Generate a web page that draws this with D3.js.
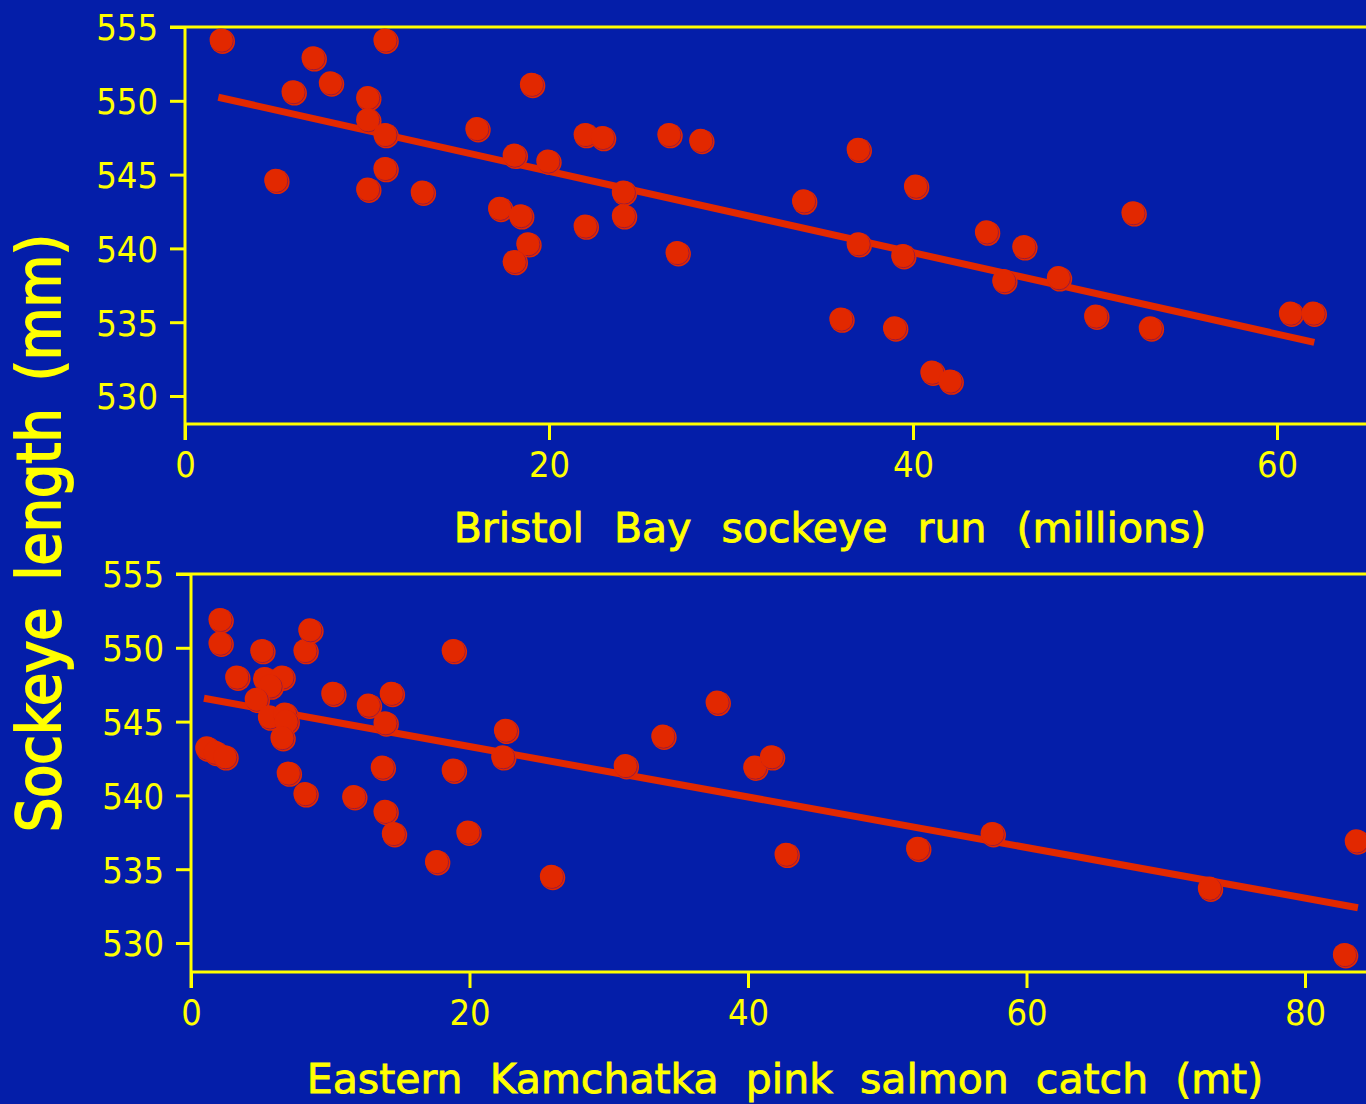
<!DOCTYPE html>
<html>
<head>
<meta charset="utf-8">
<script src="https://cdn.jsdelivr.net/npm/d3@7"></script>
<style>
  html, body { margin: 0; padding: 0; background: #041ea9; }
  svg { display: block; }
  text { fill: #ffff00; font-family: "DejaVu Sans", "Liberation Sans", sans-serif; }
  .tick text { font-stretch: condensed; }
</style>
</head>
<body>
<svg id="chart" width="1366" height="1104"></svg>
<script>
// Bristol Bay: sockeye run (millions) vs. mean sockeye length (mm)
const bristolRun = [2.0, 7.05, 11.0, 5.95, 8.0, 10.05, 10.05, 11.0, 11.0, 5.0, 10.05, 13.05,
  19.05, 16.05, 18.1, 19.95, 22.0, 22.95, 26.6, 28.35, 37.0, 17.3, 18.45, 24.1, 24.1, 22.0,
  18.85, 18.1, 27.05, 34.0, 37.0, 39.45, 40.15, 44.05, 46.1, 52.1, 45.0, 48.0, 36.05, 39.0,
  41.05, 42.05, 50.05, 53.05, 60.75, 62.0];
const bristolLength = [554.1, 552.9, 554.1, 550.6, 551.2, 550.2, 548.7, 547.7, 545.4, 544.6, 544.0, 543.8,
  551.1, 548.1, 546.3, 545.9, 547.7, 547.5, 547.7, 547.3, 546.7, 542.7, 542.2, 543.8, 542.2, 541.5,
  540.3, 539.1, 539.7, 543.2, 540.3, 539.5, 544.2, 541.1, 540.1, 542.4, 537.8, 538.0, 535.2, 534.6,
  531.6, 531.0, 535.4, 534.6, 535.6, 535.6];
// fitted regression line, end points
const bristolFitRun = [1.83, 62.05];
const bristolFitLength = [550.24, 533.63];

// Eastern Kamchatka: pink salmon catch (mt) vs. mean sockeye length (mm)
const kamchatkaCatch = [2.1, 2.1, 3.3, 5.1, 8.2, 8.55, 5.3, 6.55, 5.7, 4.7, 5.65, 6.75, 6.85, 6.55,
  1.15, 1.75, 2.45, 10.2, 12.75, 14.4, 13.95, 7.0, 8.2, 11.7, 13.75, 13.95, 14.55, 18.85, 18.85,
  22.6, 22.4, 19.9, 17.65, 25.9, 31.2, 33.9, 37.8, 40.5, 41.7, 42.75, 52.2, 57.55, 73.15, 83.7, 82.85];
const kamchatkaLength = [551.9, 550.3, 548.0, 549.8, 549.8, 551.2, 547.9, 548.0, 547.4, 546.5, 545.3, 545.5,
  545.0, 543.9, 543.2, 542.9, 542.6, 546.9, 546.1, 546.9, 544.9, 541.5, 540.1, 539.9, 541.9, 538.9,
  537.4, 549.8, 541.7, 544.4, 542.6, 537.5, 535.5, 534.5, 542.0, 544.0, 546.3, 541.9, 542.6, 536.0,
  536.4, 537.4, 533.7, 536.9, 529.2];
const kamchatkaFitCatch = [0.93, 83.8];
const kamchatkaFitLength = [546.58, 532.39];

const lengthTicks = [530, 535, 540, 545, 550, 555];
const bristolTicks = [0, 20, 40, 60];
const kamchatkaTicks = [0, 20, 40, 60, 80];

const RED = "#e22800";
const YELLOW = "#ffff00";
const W = 1366;

const svg = d3.select("#chart");
svg.append("rect").attr("width", W).attr("height", 1104).attr("fill", "#041ea9");

function panel(cfg) {
  const x = d3.scaleLinear().domain(cfg.xDomain).range(cfg.xRange);
  const y = d3.scaleLinear().domain([530, 555]).range(cfg.yRange);
  const g = svg.append("g");
  const x0 = x(0), yTop = y(555), yBase = cfg.axisY;

  // y axis with ticks
  const yAxis = d3.axisLeft(y).tickValues(lengthTicks).tickSize(15).tickPadding(12).tickSizeOuter(0);
  const ya = g.append("g").attr("transform", `translate(${x0},0)`).call(yAxis);
  ya.select(".domain").remove();
  ya.selectAll(".tick line").attr("stroke", YELLOW).attr("stroke-width", 3);
  ya.selectAll(".tick text").attr("font-size", 36).attr("dy", "0.36em");

  // x axis with ticks
  const xAxis = d3.axisBottom(x).tickValues(cfg.xTicks).tickSize(16).tickPadding(12).tickSizeOuter(0);
  const xa = g.append("g").attr("transform", `translate(0,${yBase})`).call(xAxis);
  xa.select(".domain").remove();
  xa.selectAll(".tick line").attr("stroke", YELLOW).attr("stroke-width", 3);
  xa.selectAll(".tick text").attr("font-size", 36).attr("dy", "0.7em");

  // frame: top border, left axis line, baseline
  g.append("line").attr("x1", x0 - 15).attr("x2", W).attr("y1", yTop).attr("y2", yTop)
    .attr("stroke", YELLOW).attr("stroke-width", 3);
  g.append("line").attr("x1", x0).attr("x2", x0).attr("y1", yTop).attr("y2", yBase + 16)
    .attr("stroke", YELLOW).attr("stroke-width", 3);
  g.append("line").attr("x1", x0).attr("x2", W).attr("y1", yBase).attr("y2", yBase)
    .attr("stroke", YELLOW).attr("stroke-width", 3);

  // fitted line
  const fit = cfg.fitX.map((v, i) => [v, cfg.fitY[i]]);
  g.append("path").datum(fit)
    .attr("d", d3.line().x(d => x(d[0])).y(d => y(d[1])))
    .attr("stroke", RED).attr("stroke-width", 7).attr("fill", "none");

  // points: shadowed red balls
  const pts = cfg.xs.map((v, i) => [v, cfg.ys[i]]);
  const dots = g.append("g").selectAll("g").data(pts).join("g")
    .attr("transform", d => `translate(${x(d[0])},${y(d[1])})`);
  dots.append("circle").attr("cx", 1.2).attr("cy", 1.2).attr("r", 12.4).attr("fill", RED);
  dots.append("circle").attr("cx", 0.6).attr("cy", 0.6).attr("r", 11.2)
    .attr("fill", RED).attr("stroke", "#8a1a4a").attr("stroke-width", 0.9);
  dots.append("circle").attr("cx", -0.4).attr("cy", -0.4).attr("r", 11.4).attr("fill", RED);

  // x title
  svg.append("text").attr("x", cfg.titleX).attr("y", cfg.titleY)
    .attr("text-anchor", "middle").attr("font-size", 41)
    .style("stroke", YELLOW).style("stroke-width", 0.8)
    .attr("word-spacing", cfg.wordSpacing)
    .text(cfg.title);
}

panel({
  xDomain: [0, 60], xRange: [185, 1277], yRange: [396, 27], axisY: 424,
  xTicks: bristolTicks, xs: bristolRun, ys: bristolLength,
  fitX: bristolFitRun, fitY: bristolFitLength,
  title: "Bristol Bay sockeye run (millions)", titleX: 830, titleY: 542, wordSpacing: 17
});

panel({
  xDomain: [0, 80], xRange: [191, 1305], yRange: [943, 574], axisY: 972,
  xTicks: kamchatkaTicks, xs: kamchatkaCatch, ys: kamchatkaLength,
  fitX: kamchatkaFitCatch, fitY: kamchatkaFitLength,
  title: "Eastern Kamchatka pink salmon catch (mt)", titleX: 785, titleY: 1093, wordSpacing: 14
});

// shared y title
svg.append("text")
  .attr("transform", "translate(60,533) rotate(-90)")
  .attr("text-anchor", "middle").attr("font-size", 60)
  .style("font-stretch", "condensed").style("stroke", YELLOW).style("stroke-width", 1.8)
  .attr("word-spacing", 10)
  .text("Sockeye length (mm)");
</script>
</body>
</html>
